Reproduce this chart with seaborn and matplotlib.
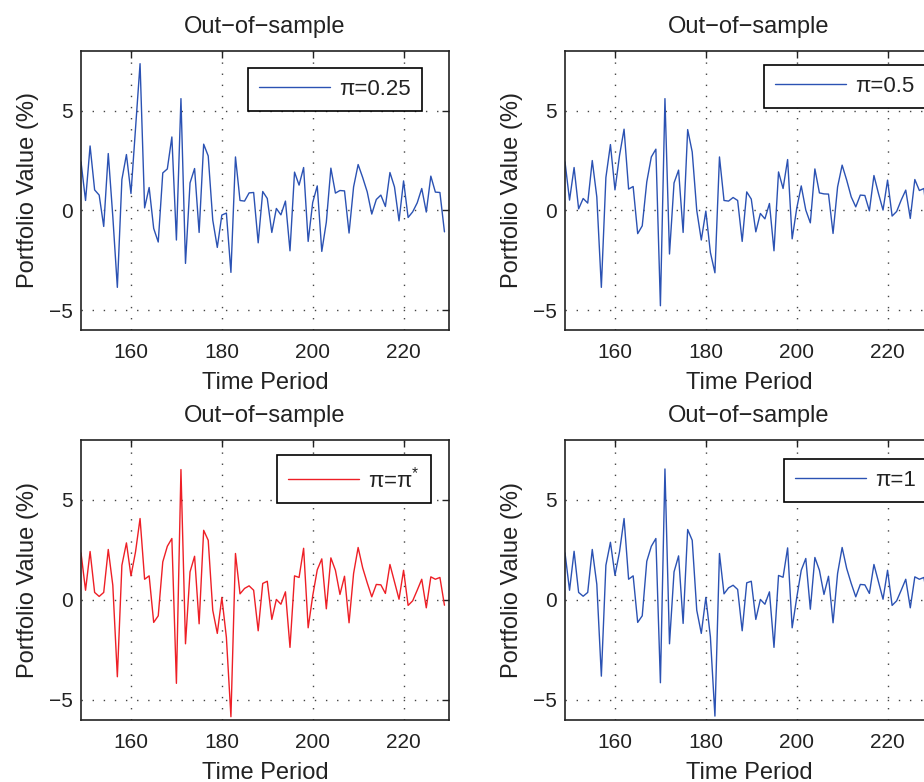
import matplotlib
matplotlib.use("Agg")
import numpy as np
import pandas as pd
import seaborn as sns
import matplotlib.pyplot as plt

# ---------------- data ----------------
time_period = list(range(149, 230))

pi_025 = [2.43, 0.5, 3.23, 1.03, 0.77, -0.8, 2.85, -0.3, -3.85, 1.55,
          2.8, 0.85, 4.1, 7.35, 0.13, 1.15, -0.9, -1.58, 1.88, 2.08,
          3.68, -1.48, 5.6, -2.65, 1.38, 2.1, -1.1, 3.32, 2.73, -0.48,
          -1.85, -0.23, -0.13, -3.1, 2.68, 0.5, 0.47, 0.88, 0.9, -1.62,
          0.95, 0.6, -1.1, 0.1, -0.22, 0.47, -2.02, 1.92, 1.27, 2.15,
          -1.55, 0.4, 1.23, -2.05, -0.58, 2.12, 0.87, 1.0, 0.98, -1.13,
          1.18, 2.3, 1.65, 0.93, -0.18, 0.55, 0.77, 0.2, 1.9, 1.18,
          -0.52, 1.48, -0.35, -0.07, 0.38, 1.1, -0.08, 1.72, 0.92, 0.9,
          -1.07]

pi_05 = [2.43, 0.52, 2.15, 0.08, 0.6, 0.37, 2.5, 0.68, -3.85, 1.65,
         3.3, 1.03, 2.75, 4.07, 1.07, 1.2, -1.16, -0.77, 1.43, 2.68,
         3.07, -4.77, 5.6, -2.18, 1.38, 2.02, -1.1, 4.05, 2.93, 0.0,
         -1.48, -0.03, -2.1, -3.12, 2.68, 0.5, 0.47, 0.65, 0.5, -1.55,
         0.93, 0.57, -1.07, -0.15, -0.42, 0.35, -2.02, 1.93, 1.1, 2.55,
         -1.42, 0.1, 1.23, 0.02, -0.62, 2.08, 0.88, 0.83, 0.82, -1.15,
         1.18, 2.27, 1.52, 0.68, 0.18, 0.77, 0.75, -0.02, 1.75, 0.85,
         0.02, 1.52, -0.28, -0.05, 0.52, 1.02, -0.4, 1.55, 1.0, 1.1,
         -1.0]

pi_star = [2.35, 0.48, 2.42, 0.37, 0.17, 0.37, 2.52, 0.73, -3.85, 1.73,
           2.85, 1.2, 2.4, 4.07, 1.03, 1.2, -1.13, -0.8, 1.9, 2.68,
           3.07, -4.18, 6.52, -2.2, 1.4, 2.18, -1.2, 3.48, 2.98, -0.52,
           -1.68, 0.12, -1.88, -5.85, 2.32, 0.3, 0.57, 0.7, 0.48, -1.55,
           0.82, 0.93, -0.98, 0.02, -0.22, 0.4, -2.38, 1.2, 1.12, 2.58,
           -1.4, 0.2, 1.5, 2.05, -0.45, 2.1, 1.48, 0.27, 1.18, -1.15,
           1.32, 2.62, 1.6, 0.85, 0.15, 0.77, 0.75, 0.32, 1.77, 0.9,
           0.03, 1.48, -0.28, -0.05, 0.48, 1.03, -0.4, 1.15, 1.03, 1.12,
           -0.27]

pi_1 = [2.35, 0.48, 2.43, 0.37, 0.18, 0.37, 2.52, 0.78, -3.82, 1.73,
        2.88, 1.23, 2.4, 4.07, 1.03, 1.2, -1.13, -0.8, 1.93, 2.68,
        3.07, -4.15, 6.55, -2.2, 1.4, 2.2, -1.18, 3.52, 2.98, -0.52,
        -1.68, 0.12, -1.85, -5.82, 2.32, 0.3, 0.6, 0.73, 0.52, -1.55,
        0.85, 0.93, -0.98, 0.02, -0.22, 0.4, -2.38, 1.22, 1.13, 2.6,
        -1.4, 0.1, 1.48, 2.07, -0.47, 2.12, 1.48, 0.27, 1.18, -1.15,
        1.32, 2.62, 1.57, 0.82, 0.15, 0.77, 0.75, 0.32, 1.77, 0.9,
        0.03, 1.48, -0.28, -0.05, 0.48, 1.03, -0.4, 1.15, 1.03, 1.12,
        -0.27]

legend_labels = ["π=0.25", "π=0.5", "π=π$^{*}$", "π=1"]
x_ticks = [160, 180, 200, 220]
y_ticks = [-5, 0, 5]

# ---------------- style ----------------
sns.set_theme(style="white")
plt.rcParams["font.family"] = ["Liberation Sans", "DejaVu Sans"]
plt.rcParams["mathtext.fontset"] = "custom"
plt.rcParams["mathtext.rm"] = "Liberation Sans"
plt.rcParams["mathtext.it"] = "Liberation Sans:italic"
plt.rcParams["axes.unicode_minus"] = True

BLUE = "#2b52b3"
RED = "#ee1f26"
TXT = "#222222"

W, H = 924, 782
fig = plt.figure(figsize=(W / 100, H / 100), dpi=100)

def frac_axes(left, top, right, bottom):
    return [left / W, 1 - bottom / H, (right - left) / W, (bottom - top) / H]

panels = [
    (frac_axes(81, 50.7, 449, 330.3), pi_025, BLUE, legend_labels[0], (248, 68)),
    (frac_axes(565, 50.7, 933, 330.3), pi_05, BLUE, legend_labels[1], (764, 65)),
    (frac_axes(81, 440, 449, 719.7), pi_star, RED, legend_labels[2], (277, 455)),
    (frac_axes(565, 440, 933, 719.7), pi_1, BLUE, legend_labels[3], (784, 459)),
]

for rect, series, color, lab, (lx, ly) in panels:
    ax = fig.add_axes(rect)
    df = pd.DataFrame({"Time Period": time_period, "value": series})
    sns.lineplot(data=df, x="Time Period", y="value", ax=ax, color=color,
                 linewidth=1.0, label=lab)
    ax.set_xlim(149, 230)
    ax.set_ylim(-6, 8)
    ax.set_xticks(x_ticks)
    ax.set_yticks(y_ticks)
    ax.grid(True, linestyle=(0, (1, 7)), color="#444444", linewidth=1.0)
    ax.tick_params(direction="in", length=5, width=1, top=True, right=True,
                   labelsize=15, pad=6, colors=TXT)
    ax.tick_params(axis="x", pad=9.5)
    for sp in ax.spines.values():
        sp.set_color(TXT)
        sp.set_linewidth(1.2)
        sp.set_visible(True)
    ax.set_xlabel("Time Period", fontsize=17, color=TXT, labelpad=7)
    ax.set_ylabel("Portfolio Value (%)", fontsize=17, color=TXT, labelpad=7)
    ax.set_title("Out\u2212of\u2212sample", fontsize=17, color=TXT, pad=13)
    leg = ax.legend(loc="upper left", bbox_to_anchor=(lx / W, 1 - ly / H),
                    bbox_transform=fig.transFigure, frameon=True, fancybox=False,
                    edgecolor="black", fontsize=16, handlelength=3.2,
                    handletextpad=0.4, borderpad=0.5, borderaxespad=0,
                    framealpha=1)
    leg.get_frame().set_linewidth(1.2)
    for t in leg.get_texts():
        t.set_color(TXT)

fig.savefig("out.png", dpi=100)
